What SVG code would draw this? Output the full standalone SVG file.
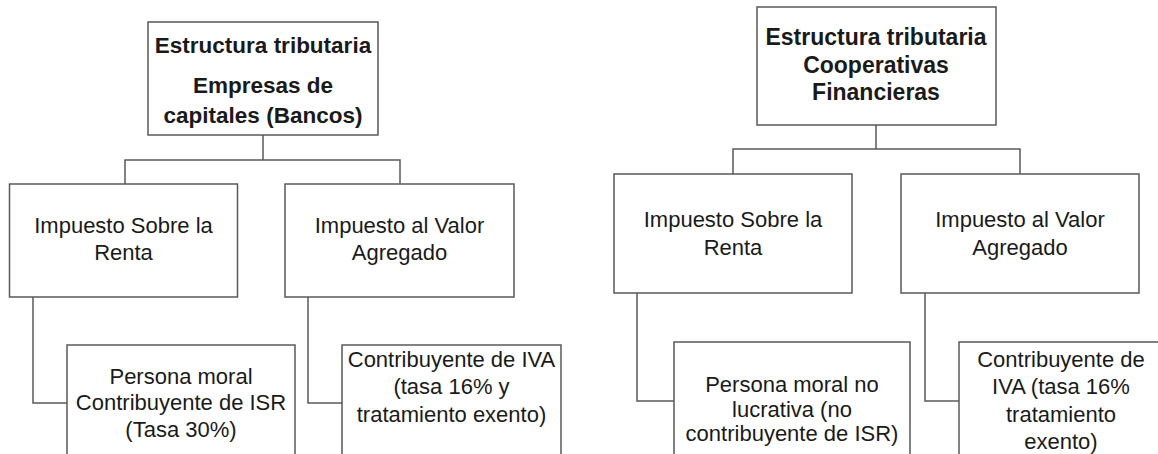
<svg xmlns="http://www.w3.org/2000/svg" width="1158" height="454" viewBox="0 0 1158 454">
<style>
.box{fill:#fff;stroke:#595959;stroke-width:1.5}
.ln{fill:none;stroke:#595959;stroke-width:1.5}
text{font-family:"Liberation Sans",Arial,sans-serif;font-size:22px;fill:#1a1a1a;text-anchor:middle}
.b{font-weight:bold;font-size:22.5px}
.b2{font-weight:bold;font-size:23px}
</style>
<rect width="1158" height="454" fill="#fff"/>
<g id="connectors">
<path class="ln" d="M263,135V160M125,184V160H400V184"/>
<path class="ln" d="M33,297V403H67"/>
<path class="ln" d="M308,297V403H342"/>
<path class="ln" d="M876,125V149M733,174V149H1020V174"/>
<path class="ln" d="M637,293V401H674"/>
<path class="ln" d="M925,293V401H959"/>
</g>
<g id="root-bancos">
<rect class="box" x="148" y="22" width="230" height="113"/>
<text class="b" x="263" y="53">Estructura tributaria</text>
<text class="b" x="263" y="93">Empresas de</text>
<text class="b" x="263" y="123">capitales (Bancos)</text>
</g>
<g id="isr-bancos">
<rect class="box" x="9.5" y="184" width="228" height="113"/>
<text x="123.5" y="233">Impuesto Sobre la</text>
<text x="123.5" y="260">Renta</text>
</g>
<g id="iva-bancos">
<rect class="box" x="285" y="184" width="229" height="113"/>
<text x="399.5" y="233">Impuesto al Valor</text>
<text x="399.5" y="260">Agregado</text>
</g>
<g id="isr-bancos-detalle">
<rect class="box" x="67" y="345" width="228" height="120"/>
<text x="181" y="384">Persona moral</text>
<text x="181" y="410">Contribuyente de ISR</text>
<text x="181" y="437">(Tasa 30%)</text>
</g>
<g id="iva-bancos-detalle">
<rect class="box" x="342" y="345" width="219" height="120"/>
<text x="451.5" y="367">Contribuyente de IVA</text>
<text x="451.5" y="394">(tasa 16% y</text>
<text x="451.5" y="422">tratamiento exento)</text>
</g>
<g id="root-cooperativas">
<rect class="box" x="757" y="7" width="239" height="118"/>
<text class="b2" x="876" y="45">Estructura tributaria</text>
<text class="b2" x="876" y="73">Cooperativas</text>
<text class="b2" x="876" y="100">Financieras</text>
</g>
<g id="isr-cooperativas">
<rect class="box" x="614" y="174" width="238" height="119"/>
<text x="733" y="227">Impuesto Sobre la</text>
<text x="733" y="255">Renta</text>
</g>
<g id="iva-cooperativas">
<rect class="box" x="901" y="174" width="238" height="119"/>
<text x="1020" y="227">Impuesto al Valor</text>
<text x="1020" y="255">Agregado</text>
</g>
<g id="isr-cooperativas-detalle">
<rect class="box" x="674" y="342" width="236" height="120"/>
<text x="792" y="392">Persona moral no</text>
<text x="792" y="417">lucrativa (no</text>
<text x="792" y="441">contribuyente de ISR)</text>
</g>
<g id="iva-cooperativas-detalle">
<rect class="box" x="959" y="342" width="205" height="120"/>
<text x="1061" y="367">Contribuyente de</text>
<text x="1061" y="394">IVA (tasa 16%</text>
<text x="1061" y="422">tratamiento</text>
<text x="1061" y="449">exento)</text>
</g>
</svg>
